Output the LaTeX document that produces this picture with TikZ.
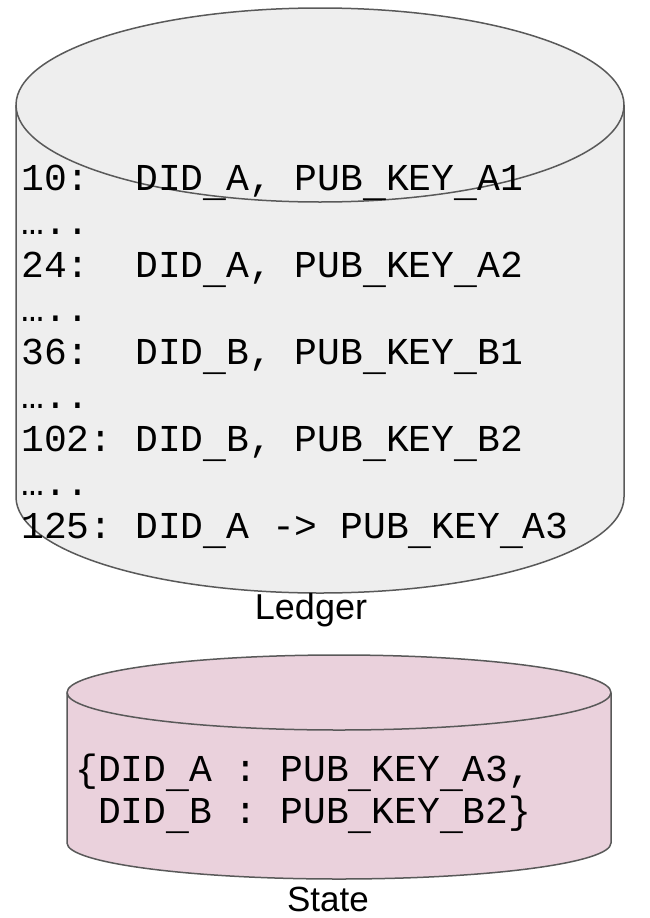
\documentclass[tikz,border=0pt]{standalone}
\usepackage{fontspec}
\setmainfont{Liberation Sans}
\setmonofont{Liberation Mono}
\definecolor{rim}{HTML}{595959}
\definecolor{ledgerfill}{HTML}{EEEEEE}
\definecolor{statefill}{HTML}{EAD1DC}
% the underscore glyph of the typewriter font, set a little low
\newcommand\us{\raisebox{-0.16em}{\char"5F\relax}}
\tikzset{
  rec/.style={anchor=base west, inner sep=0pt, font=\ttfamily\fontsize{38}{43}\selectfont},
  caption/.style={anchor=base, inner sep=0pt, text depth=0pt, font=\fontsize{36}{40}\selectfont},
  rimline/.style={draw=rim, line width=1.5pt, line join=round},
}
\begin{document}
\begin{tikzpicture}[x=1pt, y=1pt]
\useasboundingbox (0,0) rectangle (650,-918);

% ledger cylinder: body, then the top disc
\fill[ledgerfill] (16,-105) rectangle (624,-497);
\fill[ledgerfill] (320,-497) ellipse [x radius=304, y radius=96];
\draw[rimline] (16,-105) -- (16,-497)
  arc [start angle=180, end angle=360, x radius=304, y radius=96] -- (624,-105);
\draw[rimline, fill=ledgerfill] (320,-105) ellipse [x radius=304, y radius=97];

% state cylinder
\fill[statefill] (67,-692.5) rectangle (611,-843);
\fill[statefill] (339,-843) ellipse [x radius=272, y radius=36];
\draw[rimline] (67,-692.5) -- (67,-843)
  arc [start angle=180, end angle=360, x radius=272, y radius=36] -- (611,-692.5);
\draw[rimline, fill=statefill] (339,-692.5) ellipse [x radius=272, y radius=37.5];

% ledger records
\node[rec] (r1) at (21,-190.5) {10:\ \ DID\us A, PUB\us KEY\us A1};
\node[rec] (r2) at (21,-234.0) {…..};
\node[rec] (r3) at (21,-277.5) {24:\ \ DID\us A, PUB\us KEY\us A2};
\node[rec] (r4) at (21,-321.0) {…..};
\node[rec] (r5) at (21,-364.5) {36:\ \ DID\us B, PUB\us KEY\us B1};
\node[rec] (r6) at (21,-408.0) {…..};
\node[rec] (r7) at (21,-451.5) {102: DID\us B, PUB\us KEY\us B2};
\node[rec] (r8) at (21,-495.0) {…..};
\node[rec] (r9) at (21,-538.5) {125: DID\us A -> PUB\us KEY\us A3};

% current state
\node[rec] (s1) at (75,-781) {\{DID\us A : PUB\us KEY\us A3,};
\node[rec] (s2) at (75,-823.5) {\ DID\us B : PUB\us KEY\us B2\}};

% captions
\node[caption] (ledger) at (311,-619) {Ledger};
\node[caption, font=\fontsize{35}{40}\selectfont] (state) at (328,-911) {State};
\end{tikzpicture}
\end{document}
